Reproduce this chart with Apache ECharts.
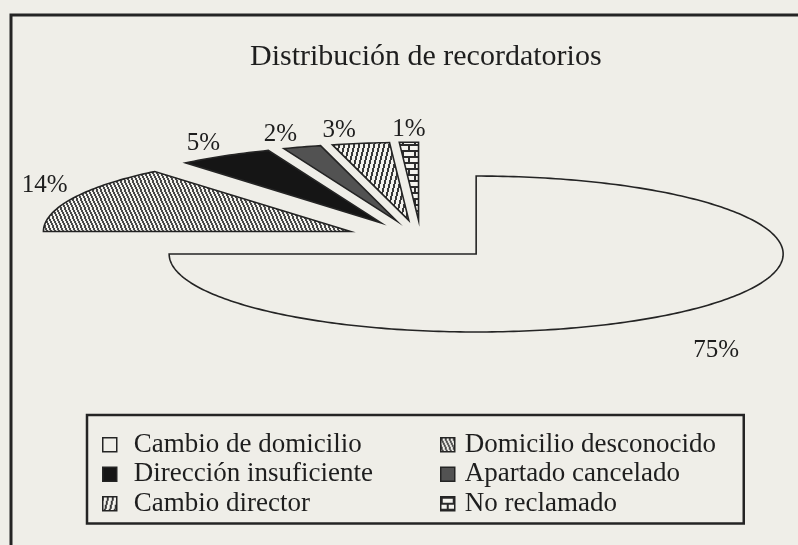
<!DOCTYPE html>
<html>
<head>
<meta charset="utf-8">
<script src="https://cdn.jsdelivr.net/npm/echarts@6/dist/echarts.min.js"></script>
<style>
html,body{margin:0;padding:0;background:#efeee8;}
#main{width:798px;height:545px;}
</style>
</head>
<body>
<div id="main"></div>
<script>
// ---------- data ----------
const chartTitle = 'Distribución de recordatorios';
const categories = ['Cambio de domicilio', 'Domicilio desconocido', 'Dirección insuficiente', 'Apartado cancelado', 'Cambio director', 'No reclamado'];
const values = [75, 14, 5, 2, 3, 1];
const legendColumn1 = ['Cambio de domicilio', 'Dirección insuficiente', 'Cambio director'];
const legendColumn2 = ['Domicilio desconocido', 'Apartado cancelado', 'No reclamado'];

// ---------- layout / style ----------
const PAPER = '#efeee8';
const INK = '#242424';
const PIE = { cx: 421, cy: 240, r: 307, tilt: 0.254, explode: 78, labelGap: 0, labelGapX: 5, labelDrop: 29 };
const SERIF = '"Liberation Serif", "DejaVu Serif", serif';

function tile(w, h, draw) {
  const c = document.createElement('canvas');
  c.width = w; c.height = h;
  const g = c.getContext('2d');
  draw(g, w, h);
  return { image: c, repeat: 'repeat' };
}
function stripes(w, h, dir, thick, bg, fg) {
  return tile(w, h, function (g) {
    g.fillStyle = bg; g.fillRect(0, 0, w, h);
    g.fillStyle = fg;
    for (let y = 0; y < h; y++) {
      let x = Math.floor(y * w / h);
      if (dir < 0) x = w - 1 - x;
      for (let k = 0; k < thick; k++) {
        g.fillRect((x + k) % w, y, 1, 1);
      }
    }
  });
}
const fills = [
  PAPER,                                              // Cambio de domicilio
  stripes(4, 9, 1, 2, '#f4f3ee', '#484848'),          // Domicilio desconocido
  '#151515',                                          // Dirección insuficiente
  '#525252',                                          // Apartado cancelado
  stripes(5, 20, -1, 2, '#f4f3ee', '#383838'),        // Cambio director
  tile(12, 12, function (g, w, h) {                   // No reclamado
    g.fillStyle = '#f4f3ee'; g.fillRect(0, 0, w, h);
    g.fillStyle = '#2c2c2c';
    g.fillRect(0, 0, w, 2); g.fillRect(0, 6, w, 2);
    g.fillRect(0, 0, 2, 6); g.fillRect(6, 6, 2, 6);
  })
];

const total = values.reduce((a, b) => a + b, 0);

function makeRender(i) {
  return function (params, api) {
    let before = 0;
    for (let j = 0; j < i; j++) before += values[j];
    const a0 = before / total * Math.PI * 2;
    const a1 = (before + values[i]) / total * Math.PI * 2;
    const m = (a0 + a1) / 2;
    const s = Math.sin(m), c = Math.cos(m);
    const ax = PIE.cx + PIE.explode * s;
    const ay = PIE.cy - PIE.explode * PIE.tilt * c;
    const ry = PIE.r * PIE.tilt;
    const pts = [[ax, ay]];
    const n = Math.max(2, Math.ceil((a1 - a0) / (Math.PI / 180)));
    for (let k = 0; k <= n; k++) {
      const t = a0 + (a1 - a0) * k / n;
      pts.push([ax + PIE.r * Math.sin(t), ay - ry * Math.cos(t)]);
    }
    // label
    const centred = Math.abs(s) < 0.1;
    let lx = ax + PIE.r * s;
    if (!centred && s < 0) lx -= PIE.labelGapX;
    let ly = ay - (ry + PIE.labelGap) * c;
    if (c < 0) ly += PIE.labelDrop;
    const align = centred ? 'center' : (s < 0 ? 'right' : 'left');
    const vAlign = c >= 0 ? 'bottom' : 'top';
    const pct = Math.round(values[i] / total * 100) + '%';
    return {
      type: 'group',
      children: [
        {
          type: 'polygon',
          shape: { points: pts },
          style: { fill: fills[i], stroke: INK, lineWidth: 1.6, lineJoin: 'miter' }
        },
        {
          type: 'text',
          x: lx, y: ly,
          style: {
            text: pct, fill: '#1e1e1e',
            fontFamily: SERIF, fontSize: 25,
            align: align, verticalAlign: vAlign
          }
        }
      ]
    };
  };
}

const series = categories.map(function (name, i) {
  return {
    type: 'custom',
    name: name,
    coordinateSystem: 'none',
    data: [values[i]],
    itemStyle: { color: fills[i], borderColor: INK, borderWidth: 1.5 },
    renderItem: makeRender(i),
    silent: true
  };
});

const legendBase = {
  orient: 'vertical',
  icon: 'rect',
  itemWidth: 14,
  itemHeight: 14,
  itemGap: 0,
  selectedMode: false,
  itemStyle: { borderColor: INK, borderWidth: 1.5 },
  inactiveColor: '#999'
};

const chart = echarts.init(document.getElementById('main'), null, { renderer: 'canvas' });
chart.setOption({
  animation: false,
  backgroundColor: PAPER,
  title: {
    text: chartTitle,
    left: 245,
    top: 37,
    textStyle: { fontFamily: SERIF, fontSize: 30, fontWeight: 'normal', color: '#1e1e1e' }
  },
  legend: [
    Object.assign({}, legendBase, {
      data: legendColumn1,
      left: 87,
      top: 415,
      padding: [15, 360, 5, 15],
      borderColor: INK,
      borderWidth: 2.5,
      textStyle: { fontFamily: SERIF, fontSize: 27, color: '#1e1e1e', lineHeight: 29.5, width: 250, padding: [0, 0, 0, 12] }
    }),
    Object.assign({}, legendBase, {
      data: legendColumn2,
      left: 440,
      top: 430,
      padding: 0,
      textStyle: { fontFamily: SERIF, fontSize: 27, color: '#1e1e1e', lineHeight: 29.5, padding: [0, 0, 0, 5] }
    })
  ],
  graphic: [
    {
      type: 'rect',
      silent: true,
      z: -10,
      shape: { x: 11, y: 15, width: 820, height: 570 },
      style: { fill: 'none', stroke: INK, lineWidth: 3 }
    }
  ],
  series: series
});
</script>
</body>
</html>
